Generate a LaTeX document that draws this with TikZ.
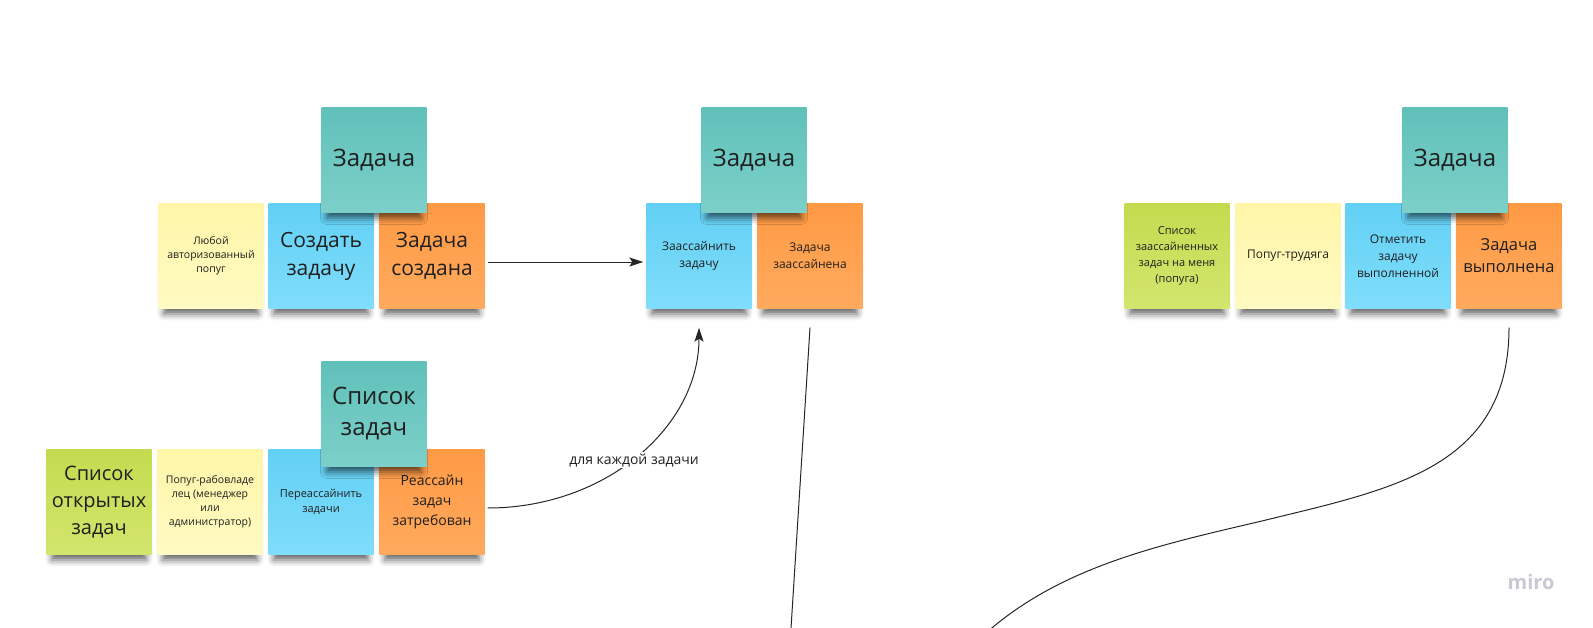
\documentclass[tikz,border=0pt]{standalone}
\usepackage{fontspec}
\setmainfont{Open Sans}
\usetikzlibrary{arrows.meta,shadows.blur,positioning}

\definecolor{cyantop}{HTML}{60C1BA}
\definecolor{cyanbot}{HTML}{7CD0C9}
\definecolor{bluetop}{HTML}{62D0F5}
\definecolor{bluebot}{HTML}{80DDFB}
\definecolor{orangetop}{HTML}{FF9A44}
\definecolor{orangebot}{HTML}{FFAA5E}
\definecolor{yellowtop}{HTML}{FFF6A8}
\definecolor{yellowbot}{HTML}{FFFAC2}
\definecolor{greentop}{HTML}{C4DB4F}
\definecolor{greenbot}{HTML}{D3E56E}
\definecolor{logogray}{HTML}{C9C9D3}

\newcommand{\fsz}[2]{\fontsize{#1}{#2}\selectfont}

\begin{document}
\begin{tikzpicture}[x=1pt,y=-1pt,
  note/.style={minimum width=105pt,minimum height=105pt,inner sep=2pt,align=center,text=black!88,
    blur shadow={shadow xshift=0pt,shadow yshift=-12pt,shadow scale=0.9,shadow blur radius=7pt,shadow opacity=60}},
  notecyan/.style={note,top color=cyantop,bottom color=cyanbot},
  noteblue/.style={note,top color=bluetop,bottom color=bluebot},
  noteorange/.style={note,top color=orangetop,bottom color=orangebot},
  noteyellow/.style={note,top color=yellowtop,bottom color=yellowbot},
  notegreen/.style={note,top color=greentop,bottom color=greenbot},
  link/.style={line width=1pt,draw=black!85}]
\useasboundingbox (0,0) rectangle (1593,627);

% Задача создана
\node[noteyellow,font=\fsz{10.5}{14}] (anyparrot) at (211,256) {Любой\\авторизованный\\попуг};
\node[noteblue,font=\fsz{21}{28}] (create) at (321,256) {Создать\\задачу};
\node[noteorange,font=\fsz{21}{28}] (created) at (432,256) {Задача\\создана};
\node[notecyan,font=\fsz{24}{31}] (task1) at (374,160) {Задача};

% Реассайн
\node[notegreen,font=\fsz{20}{27}] (openlist) at (99,502) {Список\\открытых\\задач};
\node[noteyellow,font=\fsz{10.5}{14}] (manager) at (210,502) {Попуг-рабовладе\\лец (менеджер\\или\\администратор)};
\node[noteblue,font=\fsz{11}{15}] (reassign) at (321,502) {Переассайнить\\задачи};
\node[noteorange,font=\fsz{14}{20}] (reassigned) at (432,502) {Реассайн\\задач\\затребован};
\node[notecyan,font=\fsz{24}{31}] (tasklist) at (374,414) {Список\\задач};

% Заассайнить
\node[noteblue,font=\fsz{12}{17}] (assign) at (699,256) {Заассайнить\\задачу};
\node[noteorange,font=\fsz{12}{17}] (assigned) at (810,256) {Задача\\заассайнена};
\node[notecyan,font=\fsz{24}{31}] (task2) at (754,160) {Задача};

% Задача выполнена
\node[notegreen,font=\fsz{11}{16}] (mylist) at (1177,256) {Список\\заассайненных\\задач на меня\\(попуга)};
\node[noteyellow,font=\fsz{12}{17}] (worker) at (1288,256) {Попуг-трудяга};
\node[noteblue,font=\fsz{12}{17}] (markdone) at (1398,256) {Отметить\\задачу\\выполненной};
\node[noteorange,font=\fsz{16.5}{22}] (done) at (1509,256) {Задача\\выполнена};
\node[notecyan,font=\fsz{24}{31}] (task3) at (1455,160) {Задача};

% connectors
\coordinate (offassigned) at (789,660);
\coordinate (offdone) at (962,653);
\draw[link,-{Stealth[length=14pt,width=9pt,inset=3pt]}] ([shift={(3,6)}]created.east) -- ([shift={(-3,6)}]assign.west);
\draw[link,-{Stealth[length=14pt,width=9pt,inset=3pt]}] ([shift={(3,6)}]reassigned.east)
  .. controls +(117,0) and +(0,100) .. ([yshift=-19pt]assign.south);
\node[fill=white,inner sep=1.5pt,font=\fsz{14}{17},text=black!88] (each) at (634,460) {для каждой задачи};
\draw[link] ([yshift=-19pt]assigned.south) -- (offassigned);
\draw[link] ([yshift=-19pt]done.south) .. controls +(0,140) and (1392,489) .. (1266,520)
  .. controls (1169,543) and (1070,563) .. (993,627) -- (offdone);

\node[font=\fsz{20}{24}\bfseries,text=logogray] (miro) at (1531,582) {miro};
\end{tikzpicture}
\end{document}
